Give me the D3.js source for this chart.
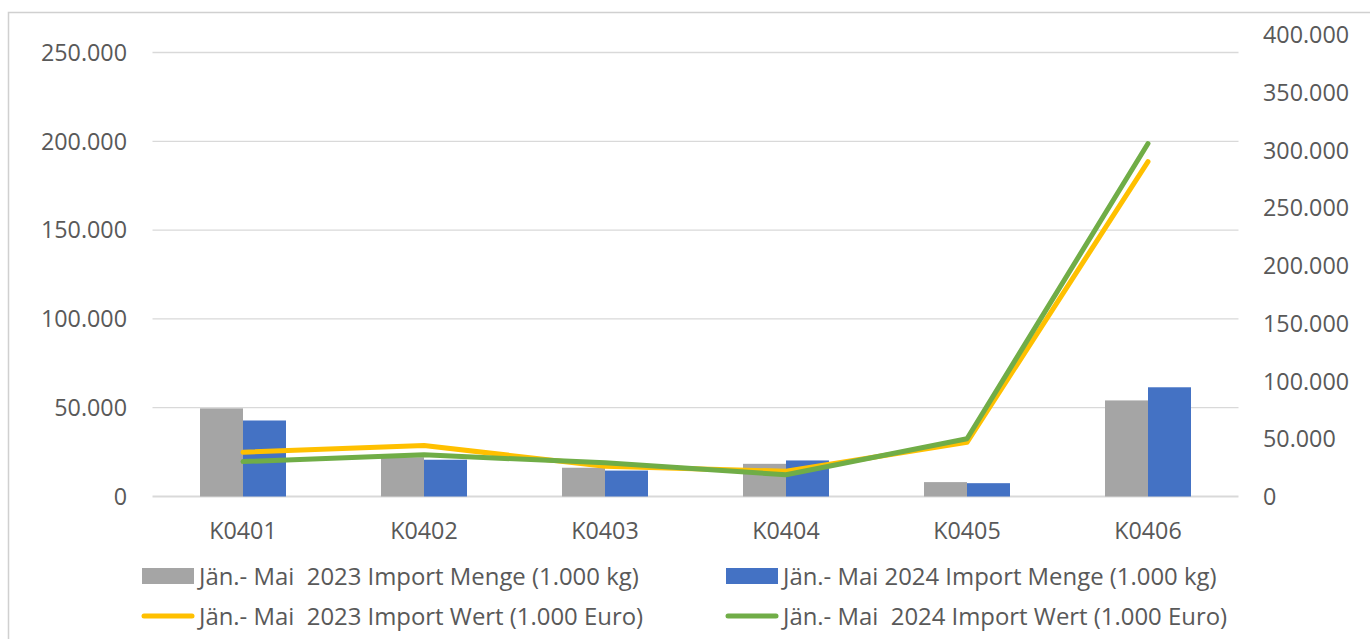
<!DOCTYPE html>
<html>
<head>
<meta charset="utf-8">
<script src="https://cdn.jsdelivr.net/npm/d3@7"></script>
<style>
  body { margin: 0; background: #fff; }
  svg text { font-family: "Open Sans", "Noto Sans", sans-serif; fill: #595959; }
</style>
</head>
<body>
<div id="chart"></div>
<script>
var svgWidth = 1370, svgHeight = 639;

// data
var categories = ["K0401", "K0402", "K0403", "K0404", "K0405", "K0406"];
var menge2023 = [49600, 22100, 16200, 18400, 8100, 54100];
var menge2024 = [42800, 20700, 14600, 20300, 7500, 61500];
var wert2023 = [38400, 44200, 26200, 21900, 47000, 290300];
var wert2024 = [30300, 36100, 29200, 18800, 50000, 305900];

var leftTicks = [0, 50000, 100000, 150000, 200000, 250000];
var rightTicks = [0, 50000, 100000, 150000, 200000, 250000, 300000, 350000, 400000];

var barNames = ["Jän.- Mai  2023 Import Menge (1.000 kg)", "Jän.- Mai 2024 Import Menge (1.000 kg)"];
var lineNames = ["Jän.- Mai  2023 Import Wert (1.000 Euro)", "Jän.- Mai  2024 Import Wert (1.000 Euro)"];
var barColors = ["#a5a5a5", "#4472c4"];
var lineColors = ["#ffc000", "#70ad47"];

var fmt = function(v){
  // german thousands separator
  return v == 0 ? "0" : d3.format(",")(v).replace(/,/g, ".");
};

var svg = d3.select("#chart")
  .append("svg")
  .attr("width", svgWidth)
  .attr("height", svgHeight);

// chart frame (runs off the page on right and bottom)
svg.append("rect")
  .attr("x", 8.5).attr("y", 12.5)
  .attr("width", 1400).attr("height", 700)
  .attr("fill", "none")
  .attr("stroke", "#d0d0d0")
  .attr("stroke-width", 1.5);

var x = d3.scaleBand().domain(categories).range([152.5, 1238.5]);
var xs = d3.scaleBand().domain([0, 1]).range([0, x.bandwidth()]).paddingOuter(1.105);
var yL = d3.scaleLinear().domain([0, 250000]).range([496.5, 52.5]);
var yR = d3.scaleLinear().domain([0, 400000]).range([496.5, 35]);

// gridlines
svg.append("g").selectAll("line")
  .data(leftTicks)
  .enter().append("line")
  .attr("x1", 152.5).attr("x2", 1238.5)
  .attr("y1", d => yL(d)).attr("y2", d => yL(d))
  .attr("stroke", "#d9d9d9")
  .attr("stroke-width", d => d == 0 ? 2 : 1.3);

// left axis labels
svg.append("g").selectAll("text")
  .data(leftTicks)
  .enter().append("text")
  .attr("x", 127).attr("y", d => yL(d))
  .attr("dy", "0.36em")
  .attr("text-anchor", "end")
  .style("font-size", "23.3px")
  .text(fmt);

// right axis labels
svg.append("g").selectAll("text")
  .data(rightTicks)
  .enter().append("text")
  .attr("x", 1263).attr("y", d => yR(d))
  .attr("dy", "0.36em")
  .style("font-size", "23.3px")
  .text(fmt);

// category labels
svg.append("g").selectAll("text")
  .data(categories)
  .enter().append("text")
  .attr("x", d => x(d) + x.bandwidth() / 2)
  .attr("y", 539)
  .attr("text-anchor", "middle")
  .style("font-size", "23.3px")
  .text(d => d);

// bars
var barSeries = [menge2023, menge2024];
barSeries.forEach(function(vals, s){
  svg.append("g").selectAll("rect")
    .data(vals)
    .enter().append("rect")
    .attr("x", (d, i) => x(categories[i]) + xs(s))
    .attr("width", xs.bandwidth())
    .attr("y", d => yL(d))
    .attr("height", d => yL(0) - yL(d))
    .attr("fill", barColors[s]);
});

// lines on the right axis
var line = d3.line()
  .x((d, i) => x(categories[i]) + x.bandwidth() / 2)
  .y(d => yR(d));

[wert2023, wert2024].forEach(function(vals, s){
  svg.append("path")
    .datum(vals)
    .attr("d", line)
    .attr("fill", "none")
    .attr("stroke", lineColors[s])
    .attr("stroke-width", 5)
    .attr("stroke-linecap", "round")
    .attr("stroke-linejoin", "round");
});

// legend
var legendCols = [142, 726];
var legend = svg.append("g");
barNames.forEach(function(name, s){
  legend.append("rect")
    .attr("x", legendCols[s]).attr("y", 568)
    .attr("width", 52).attr("height", 16)
    .attr("fill", barColors[s]);
  legend.append("text")
    .attr("x", legendCols[s] + 57).attr("y", 576)
    .attr("dy", "0.36em")
    .style("font-size", "23.9px")
    .style("white-space", "pre")
    .text(name);
});
lineNames.forEach(function(name, s){
  legend.append("line")
    .attr("x1", legendCols[s] + 2).attr("x2", legendCols[s] + 50)
    .attr("y1", 616).attr("y2", 616)
    .attr("stroke", lineColors[s])
    .attr("stroke-width", 5)
    .attr("stroke-linecap", "round");
  legend.append("text")
    .attr("x", legendCols[s] + 57).attr("y", 616)
    .attr("dy", "0.36em")
    .style("font-size", "23.9px")
    .style("white-space", "pre")
    .text(name);
});
</script>
</body>
</html>
